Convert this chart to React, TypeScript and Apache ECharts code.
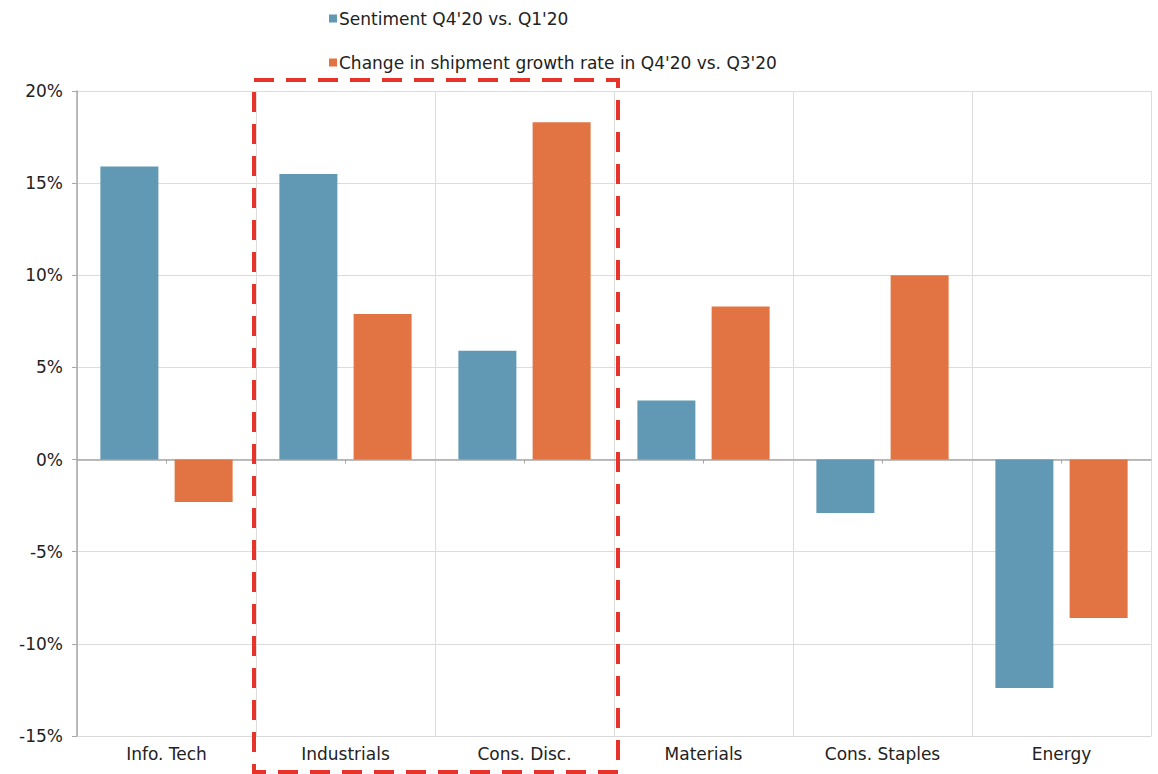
import React, { useEffect, useRef } from "react";
import * as echarts from "echarts";

// Sectors on the category axis
const categories = ["Info. Tech", "Industrials", "Cons. Disc.", "Materials", "Cons. Staples", "Energy"];

// Sentiment change, Q4'20 vs. Q1'20 (%)
const sentimentValues = [15.9, 15.5, 5.9, 3.2, -2.9, -12.4];

// Change in shipment growth rate, Q4'20 vs. Q3'20 (%)
const shipmentValues = [-2.3, 7.9, 18.3, 8.3, 10.0, -8.6];

const seriesNames = ["Sentiment Q4'20 vs. Q1'20", "Change in shipment growth rate in Q4'20 vs. Q3'20"];

// Sectors enclosed by the highlight box
const highlighted = ["Industrials", "Cons. Disc."];

const BLUE = "#6199B5";
const ORANGE = "#E27443";
const FONT = "'DejaVu Sans', Verdana, sans-serif";

export default function App() {
  const ref = useRef<HTMLDivElement>(null);

  useEffect(() => {
    if (!ref.current) return;
    const chart = echarts.init(ref.current, null, { renderer: "svg" });

    chart.setOption({
      animation: false,
      backgroundColor: "#ffffff",
      textStyle: { fontFamily: FONT },
      legend: {
        orient: "vertical",
        left: 324,
        top: 5,
        itemGap: 27,
        itemWidth: 8,
        itemHeight: 8,
        icon: "rect",
        selectedMode: false,
        textStyle: { fontSize: 17, color: "#222", fontFamily: FONT, padding: [0, 0, 0, -3] },
        data: seriesNames,
      },
      grid: { left: 77, right: 7, top: 91, bottom: 38, containLabel: false },
      xAxis: [
        {
          type: "category",
          data: categories,
          position: "bottom",
          axisLine: { show: true, onZero: false, lineStyle: { color: "#d9d9d9" } },
          axisTick: { show: false },
          axisLabel: { color: "#222", fontSize: 17, margin: 9, fontFamily: FONT },
          splitLine: { show: true, lineStyle: { color: "#dcdcdc", width: 1 } },
        },
        {
          type: "category",
          data: categories,
          position: "bottom",
          axisLine: { show: true, onZero: true, lineStyle: { color: "#a8a8a8", width: 1.5 } },
          axisTick: { show: true, alignWithLabel: true, length: 4, lineStyle: { color: "#a8a8a8" } },
          axisLabel: { show: false },
          splitLine: { show: false },
        },
      ],
      yAxis: {
        type: "value",
        min: -15,
        max: 20,
        interval: 5,
        axisLine: { show: true, lineStyle: { color: "#a8a8a8", width: 1.5 } },
        axisTick: { show: true, length: 5, lineStyle: { color: "#a8a8a8" } },
        axisLabel: { color: "#222", fontSize: 17, margin: 14, formatter: "{value}%", fontFamily: FONT },
        splitLine: { show: true, lineStyle: { color: "#dcdcdc", width: 1 } },
      },
      series: [
        {
          name: seriesNames[0],
          type: "bar",
          xAxisIndex: 0,
          data: sentimentValues,
          barWidth: 58,
          barGap: "28%",
          itemStyle: { color: BLUE },
        },
        {
          name: seriesNames[1],
          type: "bar",
          xAxisIndex: 0,
          data: shipmentValues,
          barWidth: 58,
          barGap: "28%",
          itemStyle: { color: ORANGE },
        },
      ],
    });

    // Dashed highlight box around the selected sectors, placed from the axis scale
    const first = chart.convertToPixel({ xAxisIndex: 0 }, highlighted[0]) as number;
    const last = chart.convertToPixel({ xAxisIndex: 0 }, highlighted[highlighted.length - 1]) as number;
    const band = (last - first) / (highlighted.length - 1);
    const top20 = chart.convertToPixel({ yAxisIndex: 0 }, 20) as number;
    const boxLeft = first - band / 2 - 2;
    const boxRight = last + band / 2 + 4;
    const boxTop = top20 - 11;
    const boxBottom = 772;

    chart.setOption({
      graphic: [
        {
          type: "rect",
          shape: { x: boxLeft, y: boxTop, width: boxRight - boxLeft, height: boxBottom - boxTop },
          style: { fill: "none", stroke: "#E8332B", lineWidth: 4, lineDash: [20, 12] },
          z: 100,
          silent: true,
        },
      ],
    });

    return () => chart.dispose();
  }, []);

  return <div ref={ref} style={{ width: 1158, height: 774, position: "absolute", left: 0, top: 0 }} />;
}
